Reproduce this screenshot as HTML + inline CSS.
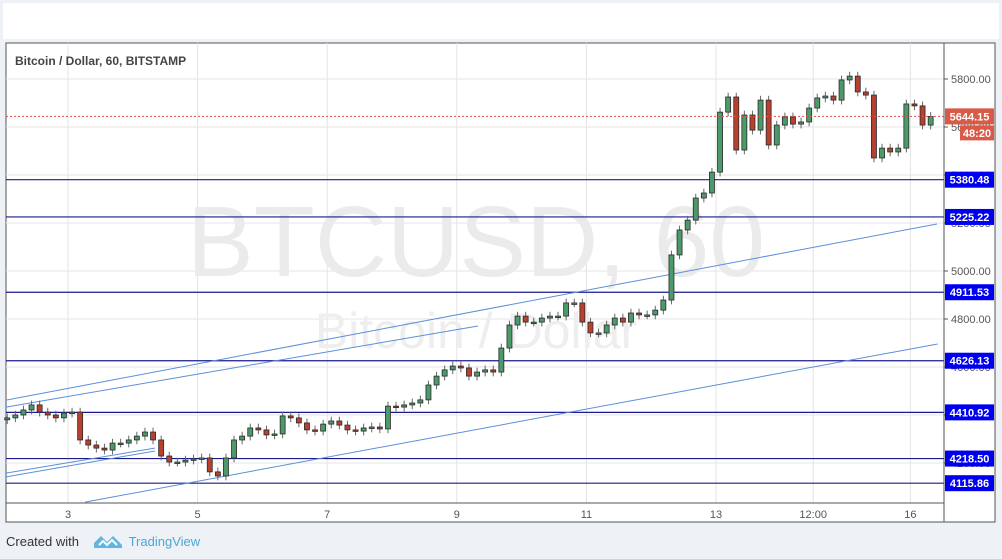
<!DOCTYPE html>
<html><head><meta charset="utf-8">
<style>
html,body{margin:0;padding:0;background:#eef1f6;}
body{width:1002px;height:559px;position:relative;overflow:hidden;font-family:"Liberation Sans",sans-serif;}
#topbar{position:absolute;left:3px;top:3px;width:996px;height:36px;background:#fff;}
#chart{position:absolute;left:0;top:0;}
#footer{position:absolute;left:6px;top:533px;font-size:13px;color:#333;}
#footer span.tv{color:#4aa8d8;margin-left:6px;}
</style></head>
<body>
<div id="topbar"></div>
<svg id="chart" width="1002" height="559"></svg>
<div id="footer">Created with
<svg width="30" height="16" viewBox="0 0 30 16" style="vertical-align:-3px;margin-left:10px"><path d="M1 10 L8 3 L14 9 L20 3 L29 12 L29 15 L1 15 Z" fill="#5fb6e0"/><path d="M6 12 L10 8 L14 12 L19 7 L24 12" stroke="#fff" stroke-width="2" fill="none"/></svg><span class="tv">TradingView</span></div>
<script>
const closes=[4388,4400,4421,4442,4412,4400,4388,4408,4412,4296,4275,4262,4254,4283,4283,4296,4312,4329,4296,4229,4204,4204,4212,4217,4221,4163,4146,4221,4296,4312,4346,4338,4317,4321,4396,4388,4367,4338,4333,4362,4375,4358,4338,4333,4346,4350,4342,4437,4433,4442,4450,4463,4525,4562,4588,4604,4596,4562,4579,4588,4579,4679,4775,4812,4787,4787,4804,4812,4812,4867,4867,4787,4742,4742,4775,4804,4787,4825,4817,4817,4837,4879,5067,5171,5212,5304,5325,5412,5662,5725,5504,5650,5587,5712,5525,5608,5642,5612,5621,5679,5721,5729,5712,5796,5812,5746,5733,5471,5512,5496,5512,5696,5688,5608,5644];
const firstOpen=4380;
const levels=[5380.48,5225.22,4911.53,4626.13,4410.92,4218.50,4115.86];
const priceTicks=[5800,5600,5400,5200,5000,4800,4600,4400,4200];
const xLabels=["3","5","7","9","11","13","12:00","16"];
const xLabelDays=[3,5,7,9,11,13,14.5,16];
const lastPrice=5644.15;
const countdown="48:20";
// trend lines as [startDay, startPrice] -> [endDay, endPrice]
const trendStart=[[2.043,4462],[2.043,4433],[2.043,4158],[2.043,4142],[3.264,4037]];
const trendEnd=[[16.41,5196],[9.327,4771],[4.34,4262],[4.34,4250],[16.42,4696]];

const NS="http://www.w3.org/2000/svg";
const svg=document.getElementById('chart');
const L=6,R=944,T=43,B=503,RB=995,PB=522;
function y(p){return 79+(5800-p)*0.24;}
function xd(d){return 3.2+(d-2)*64.8;}
function xi(i){return 7.25+i*8.1;}
function mk(tag,attrs,parent){const e=document.createElementNS(NS,tag);for(const k in attrs)e.setAttribute(k,attrs[k]);(parent||svg).appendChild(e);return e;}

const panel=mk('rect',{x:L,y:T,width:RB-L,height:PB-T,fill:'#fff',stroke:'#555','stroke-width':1});



const clip=mk('clipPath',{id:'plotclip'});
mk('rect',{x:L,y:T,width:R-L,height:B-T},clip);

priceTicks.forEach(p=>{const g=mk('line',{x1:L,x2:R,y1:y(p),y2:y(p),stroke:'#e4e4e4'});

});
xLabelDays.forEach(d=>{const g=mk('line',{x1:xd(d),x2:xd(d),y1:T,y2:B,stroke:'#e4e4e4'});

});

const w1=mk('text',{x:476,y:276,'text-anchor':'middle','font-size':100,fill:'#ebebeb','font-family':'Liberation Sans, sans-serif'});
w1.textContent='BTCUSD, 60';


const w2=mk('text',{x:476,y:348,'text-anchor':'middle','font-size':50,fill:'#eeeeee','font-family':'Liberation Sans, sans-serif'});
w2.textContent='Bitcoin / Dollar';



levels.forEach(p=>{const l=mk('line',{x1:L,x2:R,y1:y(p),y2:y(p),stroke:'#1a1a8e','stroke-width':1.2});

});

const tg=mk('g',{'clip-path':'url(#plotclip)'});
trendStart.forEach((s,i)=>{const e=trendEnd[i];const l=mk('line',{x1:xd(s[0]),y1:y(s[1]),x2:xd(e[0]),y2:y(e[1]),stroke:'#5b8fd9','stroke-width':1},tg);

});

let prev=firstOpen;
closes.forEach((c,i)=>{
  const o=prev;prev=c;
  const up=c>=o;const cx=xi(i);
  const hi=Math.max(o,c)+18,lo=Math.min(o,c)-18;
  const g=mk('g',{});
  
  
  mk('line',{x1:cx,x2:cx,y1:y(hi),y2:y(lo),stroke:'#666','stroke-width':1},g);
  const top=y(Math.max(o,c)),h=Math.max(1.5,Math.abs(y(o)-y(c)));
  mk('rect',{x:cx-2.5,y:top,width:5,height:h,fill:up?'#4c9a6a':'#b8402f',stroke:'#2a2a2a','stroke-width':0.8},g);
});

const lp=mk('line',{x1:L,x2:R,y1:y(lastPrice),y2:y(lastPrice),stroke:'#d9534f','stroke-dasharray':'2,2'});



mk('line',{x1:R,x2:R,y1:T,y2:PB,stroke:'#555'});
mk('line',{x1:L,x2:R,y1:B,y2:B,stroke:'#555'});

const title=mk('text',{x:15,y:65,'font-size':12,'font-weight':'bold',fill:'#444'});
title.textContent='Bitcoin / Dollar, 60, BITSTAMP';



priceTicks.forEach(p=>{
  mk('line',{x1:R,x2:R+4,y1:y(p),y2:y(p),stroke:'#555'});
  const t=mk('text',{x:951,y:y(p)+4,'font-size':11,fill:'#555'});
  t.textContent=p.toFixed(2);
  
  
});
xLabels.forEach((s,i)=>{
  const t=mk('text',{x:xd(xLabelDays[i]),y:518,'text-anchor':'middle','font-size':11,fill:'#555'});
  t.textContent=s;
  
  
});
levels.forEach(p=>{
  const g=mk('g',{});
  
  
  mk('rect',{x:945,y:y(p)-8,width:49,height:16,fill:'#0000f0'},g);
  const t=mk('text',{x:969.5,y:y(p)+4,'text-anchor':'middle','font-size':11,'font-weight':'bold',fill:'#fff'},g);
  t.textContent=p.toFixed(2);
});
const lg=mk('g',{});


mk('rect',{x:945,y:y(lastPrice)-8,width:49,height:16,fill:'#d95a47'},lg);
const lt=mk('text',{x:969.5,y:y(lastPrice)+4,'text-anchor':'middle','font-size':11,'font-weight':'bold',fill:'#fff'},lg);
lt.textContent=lastPrice.toFixed(2);
mk('rect',{x:960,y:y(lastPrice)+9,width:34,height:15,fill:'#d95a47'},lg);
const ct=mk('text',{x:977,y:y(lastPrice)+20.5,'text-anchor':'middle','font-size':11,'font-weight':'bold',fill:'#fff'},lg);
ct.textContent=countdown;
</script>
</body></html>
